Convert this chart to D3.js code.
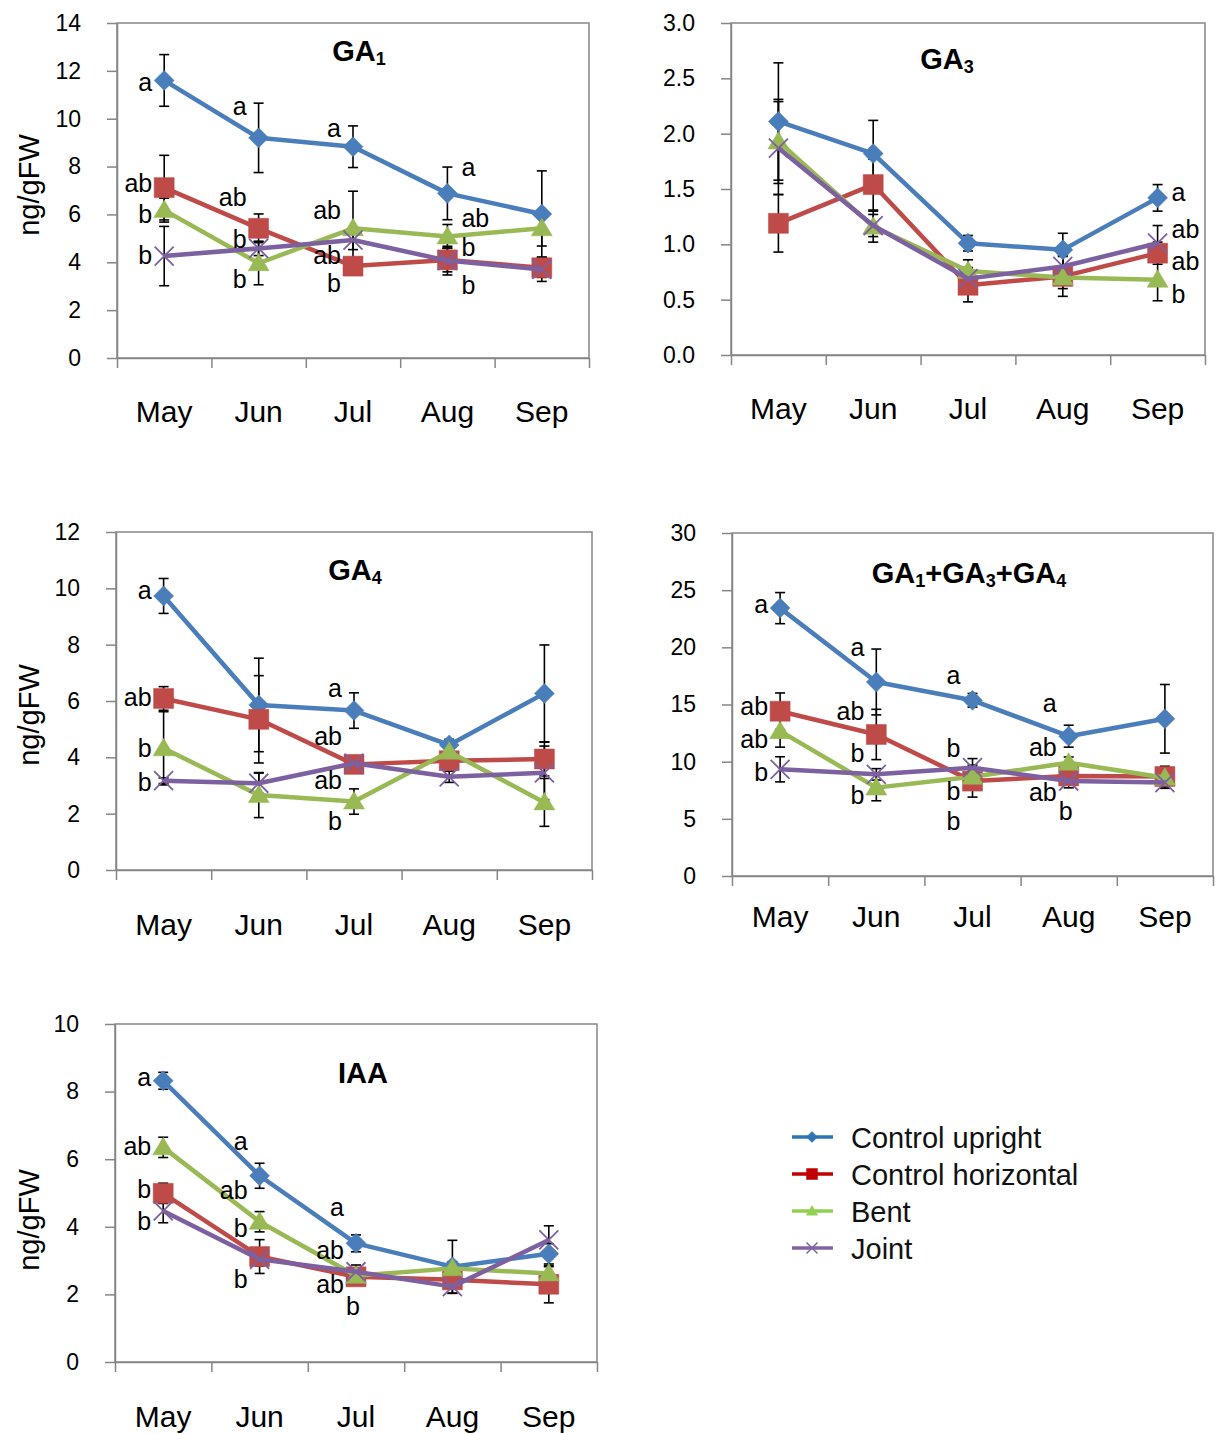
<!DOCTYPE html>
<html><head><meta charset="utf-8">
<script src="https://cdn.jsdelivr.net/npm/d3@7"></script>
<style>
body{margin:0;background:#fff}
svg{display:block;font-family:"Liberation Sans",Arial,sans-serif}
</style>
</head><body>
<svg id="chart" width="1217" height="1434"></svg>
<script>
// ---------------- DATA ----------------
const months = ["May", "Jun", "Jul", "Aug", "Sep"];
const seriesNames = ["Control upright", "Control horizontal", "Bent", "Joint"];

// GA1
const ga1Upright    = [11.60, 9.20, 8.83, 6.88, 6.02];
const ga1Horizontal = [7.12, 5.42, 3.84, 4.10, 3.77];
const ga1Bent       = [6.18, 3.96, 5.42, 5.08, 5.42];
const ga1Joint      = [4.26, 4.58, 4.93, 4.07, 3.70];
const ga1UprightErr    = [1.08, 1.45, 0.87, 1.10, 1.80];
const ga1HorizontalErr = [1.35, 0.60, 0.30, 0.50, 0.40];
const ga1BentErr       = [0.50, 0.90, 1.55, 0.50, 0.74];
const ga1JointErr      = [1.24, 0.30, 0.40, 0.60, 0.50];
const ga1Ticks = [0, 2, 4, 6, 8, 10, 12, 14];
const ga1Letters = [
  [0, 11.53, "a", "l"], [0, 7.31, "ab", "l"], [0, 6.02, "b", "l"], [0, 4.30, "b", "l"],
  [1, 10.53, "a", "l"], [1, 6.73, "ab", "l"], [1, 4.97, "b", "l"], [1, 3.30, "b", "l"],
  [2, 9.61, "a", "l"], [2, 6.18, "ab", "l"], [2, 4.30, "ab", "l"], [2, 3.13, "b", "l"],
  [3, 7.98, "a", "r"], [3, 5.85, "ab", "r"], [3, 4.64, "b", "r"], [3, 3.05, "b", "r"]
];

// GA3
const ga3Upright    = [2.11, 1.82, 1.01, 0.95, 1.42];
const ga3Horizontal = [1.19, 1.54, 0.63, 0.71, 0.92];
const ga3Bent       = [1.93, 1.16, 0.76, 0.70, 0.68];
const ga3Joint      = [1.87, 1.17, 0.69, 0.80, 1.01];
const ga3UprightErr    = [0.53, 0.30, 0.07, 0.15, 0.12];
const ga3HorizontalErr = [0.26, 0.23, 0.15, 0.18, 0.10];
const ga3BentErr       = [0.38, 0.14, 0.10, 0.10, 0.19];
const ga3JointErr      = [0.42, 0.10, 0.10, 0.10, 0.16];
const ga3Ticks = [0, 0.5, 1.0, 1.5, 2.0, 2.5, 3.0];
const ga3Letters = [
  [4, 1.47, "a", "r"], [4, 1.14, "ab", "r"], [4, 0.85, "ab", "r"], [4, 0.55, "b", "r"]
];

// GA4
const ga4Upright    = [9.73, 5.86, 5.66, 4.44, 6.27];
const ga4Horizontal = [6.09, 5.35, 3.75, 3.88, 3.94];
const ga4Bent       = [4.32, 2.66, 2.43, 4.20, 2.40];
const ga4Joint      = [3.17, 3.08, 3.79, 3.31, 3.45];
const ga4UprightErr    = [0.62, 1.66, 0.63, 0.20, 1.72];
const ga4HorizontalErr = [0.42, 1.55, 0.20, 0.20, 0.60];
const ga4BentErr       = [1.30, 0.80, 0.45, 0.20, 0.85];
const ga4JointErr      = [0.10, 0.36, 0.20, 0.20, 0.95];
const ga4Ticks = [0, 2, 4, 6, 8, 10, 12];
const ga4Letters = [
  [0, 9.94, "a", "l"], [0, 6.14, "ab", "l"], [0, 4.33, "b", "l"], [0, 3.12, "b", "l"],
  [2, 6.46, "a", "l"], [2, 4.76, "ab", "l"], [2, 3.19, "ab", "l"], [2, 1.74, "b", "l"]
];

// GA1+GA3+GA4
const sumUpright    = [23.43, 16.97, 15.37, 12.23, 13.75];
const sumHorizontal = [14.41, 12.38, 8.30, 8.75, 8.70];
const sumBent       = [12.67, 7.73, 8.68, 9.91, 8.60];
const sumJoint      = [9.33, 8.89, 9.47, 8.31, 8.17];
const sumUprightErr    = [1.36, 2.88, 0.60, 0.96, 3.00];
const sumHorizontalErr = [1.60, 2.20, 1.40, 0.50, 0.90];
const sumBentErr       = [1.40, 1.15, 0.50, 0.50, 0.50];
const sumJointErr      = [1.10, 0.50, 0.80, 0.60, 0.50];
const sumTicks = [0, 5, 10, 15, 20, 25, 30];
const sumLetters = [
  [0, 23.8, "a", "l"], [0, 14.82, "ab", "l"], [0, 11.94, "ab", "l"], [0, 9.07, "b", "l"],
  [1, 19.97, "a", "l"], [1, 14.39, "ab", "l"], [1, 10.72, "b", "l"], [1, 7.06, "b", "l"],
  [2, 17.52, "a", "l"], [2, 11.16, "b", "l"], [2, 7.41, "b", "l"], [2, 4.80, "b", "l"],
  [3, 15.08, "a", "l"], [3, 11.25, "ab", "l"], [3, 7.32, "ab", "l"], [3, 5.67, "b", "c"]
];

// IAA
const iaaUpright    = [8.32, 5.51, 3.51, 2.82, 3.20];
const iaaHorizontal = [4.99, 3.12, 2.52, 2.43, 2.30];
const iaaBent       = [6.35, 4.15, 2.55, 2.77, 2.62];
const iaaJoint      = [4.47, 3.04, 2.67, 2.23, 3.61];
const iaaUprightErr    = [0.25, 0.37, 0.25, 0.78, 0.30];
const iaaHorizontalErr = [0.30, 0.50, 0.20, 0.20, 0.55];
const iaaBentErr       = [0.30, 0.30, 0.20, 0.20, 0.20];
const iaaJointErr      = [0.35, 0.20, 0.20, 0.20, 0.42];
const iaaTicks = [0, 2, 4, 6, 8, 10];
const iaaLetters = [
  [0, 8.43, "a", "l"], [0, 6.39, "ab", "l"], [0, 5.12, "b", "l"], [0, 4.17, "b", "l"],
  [1, 6.54, "a", "l"], [1, 5.09, "ab", "l"], [1, 3.96, "b", "l"], [1, 2.46, "b", "l"],
  [2, 4.59, "a", "l"], [2, 3.31, "ab", "l"], [2, 2.31, "ab", "l"], [2, 1.66, "b", "c"]
];

// ---------------- STYLE / LAYOUT ----------------
const colors = ["#4A7EBB", "#BE4B48", "#98B954", "#7D60A0"];
const legendColors = ["#2F74B5", "#C00000", "#92D050", "#8064A2"];
const markers = ["diamond", "square", "triangle", "x"];
const axisColor = "#868686";

const panels = [
  { title: [["GA", ""], ["1", "sub"]], left: 117, top: 23, right: 589, bottom: 358,
    ticks: ga1Ticks, fmt: d3.format("d"), titleX: 359, titleY: 61, ylabelY: 185, monthDy: 64,
    series: [ga1Upright, ga1Horizontal, ga1Bent, ga1Joint],
    errs: [ga1UprightErr, ga1HorizontalErr, ga1BentErr, ga1JointErr], letters: ga1Letters, ylabel: true },
  { title: [["GA", ""], ["3", "sub"]], left: 731, top: 23, right: 1205, bottom: 355,
    ticks: ga3Ticks, fmt: d3.format(".1f"), titleX: 947, titleY: 69, ylabelY: null, monthDy: 64,
    series: [ga3Upright, ga3Horizontal, ga3Bent, ga3Joint],
    errs: [ga3UprightErr, ga3HorizontalErr, ga3BentErr, ga3JointErr], letters: ga3Letters, ylabel: false },
  { title: [["GA", ""], ["4", "sub"]], left: 116, top: 532, right: 592, bottom: 870,
    ticks: ga4Ticks, fmt: d3.format("d"), titleX: 355, titleY: 580, ylabelY: 715, monthDy: 65,
    series: [ga4Upright, ga4Horizontal, ga4Bent, ga4Joint],
    errs: [ga4UprightErr, ga4HorizontalErr, ga4BentErr, ga4JointErr], letters: ga4Letters, ylabel: true },
  { title: [["GA", ""], ["1", "sub"], ["+GA", ""], ["3", "sub"], ["+GA", ""], ["4", "sub"]],
    left: 732, top: 533, right: 1213, bottom: 876,
    ticks: sumTicks, fmt: d3.format("d"), titleX: 969, titleY: 583, ylabelY: null, monthDy: 51,
    series: [sumUpright, sumHorizontal, sumBent, sumJoint],
    errs: [sumUprightErr, sumHorizontalErr, sumBentErr, sumJointErr], letters: sumLetters, ylabel: false },
  { title: [["IAA", ""]], left: 115, top: 1024, right: 597, bottom: 1362,
    ticks: iaaTicks, fmt: d3.format("d"), titleX: 363, titleY: 1083, ylabelY: 1220, monthDy: 65,
    series: [iaaUpright, iaaHorizontal, iaaBent, iaaJoint],
    errs: [iaaUprightErr, iaaHorizontalErr, iaaBentErr, iaaJointErr], letters: iaaLetters, ylabel: true }
];

function markerPath(type, s) {
  if (type === "diamond") return `M0,${-s}L${s},0L0,${s}L${-s},0Z`;
  if (type === "square") return `M${-s},${-s}H${s}V${s}H${-s}Z`;
  if (type === "triangle") return `M0,${-s}L${s * 1.05},${s * 0.75}L${-s * 1.05},${s * 0.75}Z`;
  return `M${-s},${-s}L${s},${s}M${s},${-s}L${-s},${s}`;
}

const svg = d3.select("#chart");

panels.forEach(p => {
  const g = svg.append("g");
  const ymax = p.ticks[p.ticks.length - 1];
  const y = d3.scaleLinear().domain([0, ymax]).range([p.bottom, p.top]);
  const xb = d3.scaleLinear().domain([0, months.length]).range([p.left, p.right]);
  const x = d3.scaleBand().domain(months).range([p.left, p.right]).padding(0);
  const cx = i => x(months[i]) + x.bandwidth() / 2;

  // frame
  g.append("rect").attr("x", p.left).attr("y", p.top)
    .attr("width", p.right - p.left).attr("height", p.bottom - p.top)
    .attr("fill", "none").attr("stroke", axisColor).attr("stroke-width", 1.5);

  // y axis
  const ya = g.append("g").attr("transform", `translate(${p.left},0)`)
    .call(d3.axisLeft(y).tickValues(p.ticks).tickFormat(p.fmt).tickSize(10).tickSizeOuter(0).tickPadding(26));
  ya.select(".domain").attr("stroke", axisColor).attr("stroke-width", 1.5);
  ya.selectAll(".tick line").attr("stroke", axisColor).attr("stroke-width", 1.5);
  ya.selectAll(".tick text").attr("font-size", 23).attr("fill", "#000")
    .attr("font-family", '"Liberation Sans",Arial,sans-serif');

  // x axis (ticks between categories)
  const xa = g.append("g").attr("transform", `translate(0,${p.bottom})`)
    .call(d3.axisBottom(xb).tickValues(d3.range(months.length + 1)).tickFormat("").tickSize(10).tickSizeOuter(0));
  xa.select(".domain").attr("stroke", axisColor).attr("stroke-width", 1.5);
  xa.selectAll(".tick line").attr("stroke", axisColor).attr("stroke-width", 1.5);

  // month labels
  g.selectAll(".month").data(months).enter().append("text")
    .attr("x", d => x(d) + x.bandwidth() / 2)
    .attr("y", p.bottom + p.monthDy)
    .attr("text-anchor", "middle").attr("font-size", 30).attr("fill", "#000")
    .text(d => d);

  // y label
  if (p.ylabel) {
    g.append("text").attr("transform", `translate(39,${p.ylabelY}) rotate(-90)`)
      .attr("text-anchor", "middle").attr("font-size", 29).attr("fill", "#000").text("ng/gFW");
  }

  // title
  const t = g.append("text").attr("x", p.titleX).attr("y", p.titleY)
    .attr("text-anchor", "middle").attr("font-weight", "bold").attr("fill", "#000");
  p.title.forEach(([txt, kind], k) => {
    const ts = t.append("tspan").text(txt);
    if (kind === "sub") ts.attr("font-size", 18).attr("dy", 4);
    else ts.attr("font-size", 29).attr("dy", k > 0 ? -4 : 0);
  });

  // error bars
  p.series.forEach((vals, si) => {
    const errs = p.errs[si];
    vals.forEach((v, i) => {
      const e = errs[i];
      if (!e) return;
      const xx = cx(i), y1 = y(v + e), y2 = y(Math.max(0, v - e));
      g.append("line").attr("x1", xx).attr("x2", xx).attr("y1", y1).attr("y2", y2)
        .attr("stroke", "#000").attr("stroke-width", 1.6);
      [y1, y2].forEach(yy => g.append("line").attr("x1", xx - 5).attr("x2", xx + 5)
        .attr("y1", yy).attr("y2", yy).attr("stroke", "#000").attr("stroke-width", 1.6));
    });
  });

  // series lines + markers
  const line = d3.line().x((d, i) => cx(i)).y(d => y(d));
  p.series.forEach((vals, si) => {
    g.append("path").datum(vals).attr("d", line).attr("fill", "none")
      .attr("stroke", colors[si]).attr("stroke-width", 4.5).attr("stroke-linejoin", "round");
    g.selectAll(null).data(vals).enter().append("path")
      .attr("transform", (d, i) => `translate(${cx(i)},${y(d)})`)
      .attr("d", markerPath(markers[si], markers[si] === "x" ? 9.5 : 10))
      .attr("fill", markers[si] === "x" ? "none" : colors[si])
      .attr("stroke", colors[si]).attr("stroke-width", markers[si] === "x" ? 1.8 : 0.5);
  });

  // significance letters
  g.selectAll(".letter").data(p.letters).enter().append("text")
    .attr("x", d => d[3] === "l" ? cx(d[0]) - 12 : d[3] === "r" ? cx(d[0]) + 14 : cx(d[0]) - 3)
    .attr("y", d => y(d[1]))
    .attr("dy", "0.35em")
    .attr("text-anchor", d => d[3] === "l" ? "end" : d[3] === "r" ? "start" : "middle")
    .attr("font-size", 25).attr("fill", "#000")
    .text(d => d[2]);
});

// ---------------- LEGEND ----------------
const leg = svg.append("g");
const legY = d3.scalePoint().domain(seriesNames).range([1137, 1248]);
seriesNames.forEach((name, i) => {
  const yy = legY(name);
  leg.append("line").attr("x1", 792).attr("x2", 833).attr("y1", yy).attr("y2", yy)
    .attr("stroke", legendColors[i]).attr("stroke-width", 3.5);
  leg.append("path").attr("transform", `translate(812,${yy})`)
    .attr("d", markerPath(markers[i], 5.5))
    .attr("fill", markers[i] === "x" ? "none" : legendColors[i])
    .attr("stroke", legendColors[i]).attr("stroke-width", markers[i] === "x" ? 1.5 : 0.5);
  leg.append("text").attr("x", 851).attr("y", yy + 11)
    .attr("font-size", 29).attr("fill", "#111").text(name);
});
</script>
</body></html>
